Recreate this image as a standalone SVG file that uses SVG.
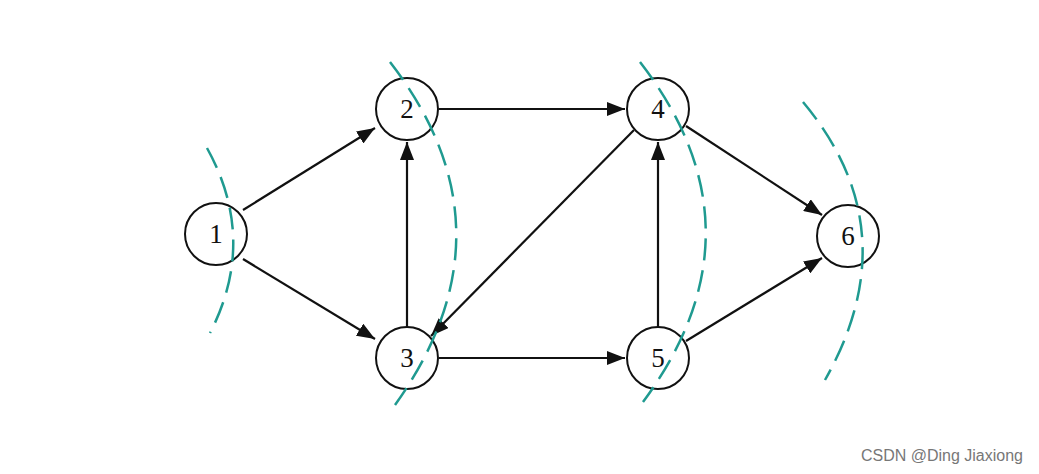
<svg xmlns="http://www.w3.org/2000/svg" width="1039" height="474" viewBox="0 0 1039 474">
<style>
.n{fill:#fff;stroke:#111;stroke-width:2}
.t{font-family:"Liberation Serif",serif;font-size:27px;fill:#111;text-anchor:middle}
.e{stroke:#111;stroke-width:2.2;fill:none;marker-end:url(#a)}
.d{stroke:#1f9a90;stroke-width:2.5;fill:none;stroke-dasharray:22 10}
</style>
<defs><marker id="a" viewBox="0 0 10 10" refX="10" refY="5" markerWidth="18" markerHeight="14" markerUnits="userSpaceOnUse" orient="auto" preserveAspectRatio="none"><path d="M0,0L10,5L0,10z" fill="#111"/></marker></defs>
<rect width="1039" height="474" fill="#fff"/>
<g id="connectors">
<line class="e" x1="243" y1="210" x2="375" y2="128"/>
<line class="e" x1="243" y1="259" x2="375" y2="339"/>
<line class="e" x1="407" y1="327" x2="407" y2="142"/>
<line class="e" x1="439" y1="109" x2="625" y2="109"/>
<line class="e" x1="634" y1="130" x2="431" y2="336"/>
<line class="e" x1="439" y1="358" x2="625" y2="358"/>
<line class="e" x1="658" y1="327" x2="658" y2="142"/>
<line class="e" x1="686" y1="126" x2="822" y2="215"/>
<line class="e" x1="686" y1="341" x2="822" y2="258"/>
</g>
<g id="n1"><circle class="n" cx="216" cy="234" r="31"/><text class="t" x="216" y="243">1</text></g>
<g id="n2"><circle class="n" cx="407" cy="109" r="31"/><text class="t" x="407" y="118">2</text></g>
<g id="n3"><circle class="n" cx="407" cy="358" r="31"/><text class="t" x="407" y="367">3</text></g>
<g id="n4"><circle class="n" cx="658" cy="109" r="31"/><text class="t" x="658" y="118">4</text></g>
<g id="n5"><circle class="n" cx="658" cy="358" r="31"/><text class="t" x="658" y="367">5</text></g>
<g id="n6"><circle class="n" cx="848" cy="236" r="31"/><text class="t" x="848" y="245">6</text></g>
<g id="cuts">
<path class="d" d="M207,148 Q258,240 210,333"/>
<path class="d" d="M390,62 Q520,230 395,405"/>
<path class="d" d="M640,62 Q770,230 643,402"/>
<path class="d" d="M803,102 Q910,230 825,380"/>
</g>
<text x="1023" y="461" font-family="Liberation Sans,sans-serif" font-size="16" fill="#777" text-anchor="end">CSDN @Ding Jiaxiong</text>
</svg>
